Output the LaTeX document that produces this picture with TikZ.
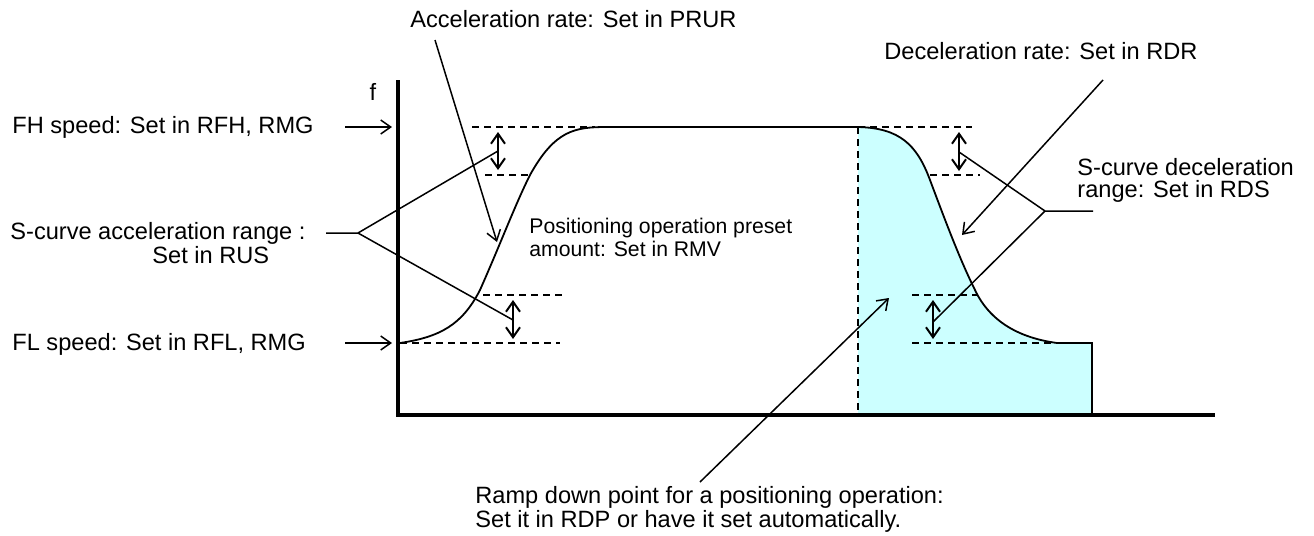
\documentclass[tikz,border=0pt]{standalone}
\usepackage{fontspec}
\setmainfont{Liberation Sans}
\usepackage{xcolor}
\usetikzlibrary{arrows.meta}
\definecolor{rampfill}{RGB}{204,255,255}

\begin{document}
\begin{tikzpicture}[x=0.5pt, y=-0.5pt,
    axisline/.style={draw=black, line width=2pt},
    trace/.style={draw=black, line width=0.9pt},
    guide/.style={draw=black, line width=0.75pt, dash pattern=on 3.5pt off 2.5pt},
    rangearrow/.style={draw=black, line width=1pt, {Straight Barb[length=5pt,width=7pt]}-{Straight Barb[length=5pt,width=7pt]}},
    pointer/.style={draw=black, line width=0.75pt, -{Straight Barb[length=5pt,width=7pt]}},
    leader/.style={draw=black, line width=0.75pt},
    note/.style={inner sep=0pt, font=\fontsize{11.8}{12}\selectfont, align=left},
    smallnote/.style={inner sep=0pt, font=\fontsize{10.6}{11.5}\selectfont, align=left}
  ]
  \useasboundingbox (0,0) rectangle (1314,536);
  % Ramp down area under the deceleration
  \fill[rampfill] (858,415) -- (858,127) .. controls (900,128) and (917,145) .. (930,180)
    .. controls (945,220) and (960,260) .. (975,290)
    .. controls (990,322) and (1020,338) .. (1057,343) -- (1092,343) -- (1092,415) -- cycle;
  % Axes
  \draw[axisline] (398,80) -- (398,415) -- (1215,415);
  \node[anchor=base, font=\fontsize{11.8}{12}\selectfont] (f) at (373,100) {f};
  % Dashed guides
  \draw[guide] (472,127) -- (595,127);
  \draw[guide] (485,175) -- (530,175);
  \draw[guide] (483,295) -- (562,295);
  \draw[guide] (400,343) -- (560,343);
  \draw[guide] (858,127) -- (858,415);
  \draw[guide] (858,127) -- (972,127);
  \draw[guide] (930,175) -- (980,175);
  \draw[guide] (912,295) -- (977,295);
  \draw[guide] (912,343) -- (1057,343);
  % Speed profile
  \draw[trace] (400,343) .. controls (440,337) and (462,325) .. (480,290)
    .. controls (500,245) and (515,205) .. (530,175)
    .. controls (555,130) and (575,127) .. (607,127) -- (858,127)
    .. controls (900,128) and (917,145) .. (930,180)
    .. controls (945,220) and (960,260) .. (975,290)
    .. controls (990,322) and (1020,338) .. (1057,343) -- (1092,343) -- (1092,415);
  % S-curve ranges
  \coordinate (a1top) at (498,132); \coordinate (a1bot) at (498,170); \coordinate (a1mid) at (498,151);
  \coordinate (a2top) at (513,300); \coordinate (a2bot) at (513,339); \coordinate (a2mid) at (513,320);
  \coordinate (d1top) at (959,132); \coordinate (d1bot) at (959,171); \coordinate (d1mid) at (959,152);
  \coordinate (d2top) at (933,300); \coordinate (d2bot) at (933,339); \coordinate (d2mid) at (933,322);
  \draw[rangearrow] (a1top) -- (a1bot);
  \draw[rangearrow] (a2top) -- (a2bot);
  \draw[rangearrow] (d1top) -- (d1bot);
  \draw[rangearrow] (d2top) -- (d2bot);
  % Labels
  \node[note, anchor=base west] (acc) at (410,27) {Acceleration rate: Set in PRUR};
  \node[note, anchor=base west] (dec) at (884,59) {Deceleration rate: Set in RDR};
  \node[note, anchor=base west] (fh) at (12,133) {FH speed: Set in RFH, RMG};
  \node[note, anchor=base west] (fl) at (12,350) {FL speed: Set in RFL, RMG};
  \node[note, anchor=north west, font=\fontsize{11.8}{10}\selectfont] (sacc) at (10,222)
    {S-curve acceleration range :\\\hspace*{71pt}Set in RUS};
  \node[note, anchor=north west, font=\fontsize{11.8}{11}\selectfont] (sdec) at (1077,158)
    {S-curve deceleration\\range: Set in RDS};
  \node[smallnote, anchor=north west] (preset) at (529,218)
    {Positioning operation preset\\amount: Set in RMV};
  \node[note, anchor=north west] (ramp) at (475,486)
    {Ramp down point for a positioning operation:\\Set it in RDP or have it set automatically.};
  % Pointers
  \coordinate (accfrom) at (435,40);   \coordinate (accto) at (497,242);
  \coordinate (decfrom) at (1103,80);  \coordinate (decto) at (962,235);
  \coordinate (rampfrom) at (700,482); \coordinate (rampto) at (889,298);
  \coordinate (fhfrom) at (345,127);   \coordinate (fhto) at (392,127);
  \coordinate (flfrom) at (345,343);   \coordinate (flto) at (392,343);
  \draw[pointer] (accfrom) -- (accto);
  \draw[pointer] (decfrom) -- (decto);
  \draw[pointer] (rampfrom) -- (rampto);
  \draw[pointer] (fhfrom) -- (fhto);
  \draw[pointer] (flfrom) -- (flto);
  % Leaders to the S-curve ranges
  \coordinate (saccend) at (326,233);  \coordinate (saccfork) at (358,233);
  \coordinate (sdecend) at (1093,211); \coordinate (sdecfork) at (1045,211);
  \draw[leader] (saccend) -- (saccfork) -- (a1mid);
  \draw[leader] (saccfork) -- (a2mid);
  \draw[leader] (sdecend) -- (sdecfork) -- (d1mid);
  \draw[leader] (sdecfork) -- (d2mid);
\end{tikzpicture}
\end{document}
